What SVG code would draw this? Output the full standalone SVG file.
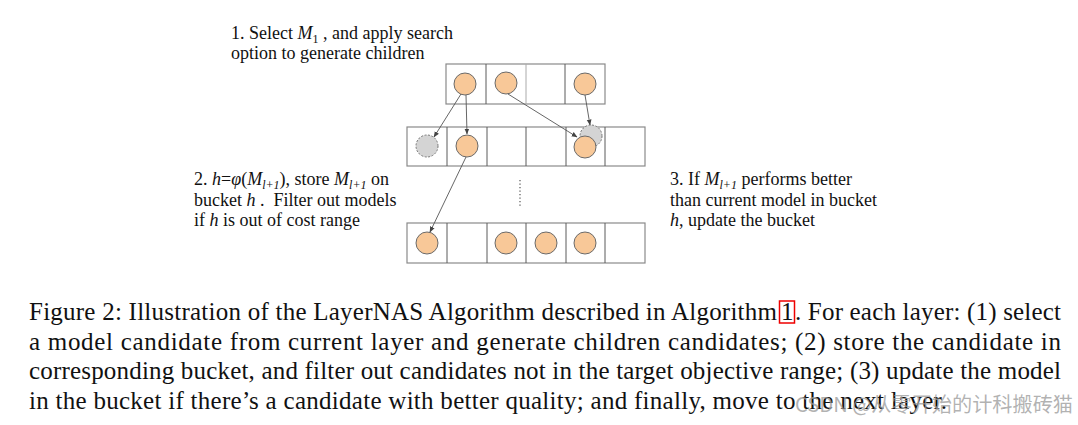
<svg xmlns="http://www.w3.org/2000/svg" width="1078" height="425" viewBox="0 0 1078 425">
  <defs>
    <marker id="ah" viewBox="0 0 10 10" refX="9" refY="5" markerWidth="6" markerHeight="6" orient="auto" markerUnits="userSpaceOnUse">
      <path d="M0,1 L10,5 L0,9 Z" fill="#444"/>
    </marker>
  </defs>
  <style>
    .cell{fill:#fff;stroke:#8a8a8a;stroke-width:1.2}
    .dv{stroke:#5a5a5a;stroke-width:1}
    .m{fill:#f8c898;stroke:#6a6a6a;stroke-width:1}
    .g{fill:#d4d4d4;stroke:#777;stroke-width:1;stroke-dasharray:2 1.5}
    .lbl{font-family:"Liberation Serif","Times New Roman",serif;font-size:18px;fill:#111}
    .cap{font-family:"Liberation Serif","Times New Roman",serif;font-size:25px;fill:#111}
    .it{font-style:italic}
    .sub{font-size:12px;font-style:italic}
    .sub1{font-size:12px}
    .conn{stroke:#555;stroke-width:0.9;fill:none;marker-end:url(#ah)}
  </style>
  <rect width="1078" height="425" fill="#fff"/>

  <!-- top row (current layer) -->
  <g id="row1">
    <rect class="cell" x="446" y="64" width="159" height="40"/>
    <line class="dv" x1="486" y1="64" x2="486" y2="104"/>
    <line class="dv" x1="526" y1="64" x2="526" y2="104" style="stroke:#aaa"/>
    <line class="dv" x1="565" y1="64" x2="565" y2="104"/>
    <circle class="m" cx="465" cy="84" r="11"/>
    <circle class="m" cx="506" cy="83" r="11"/>
    <circle class="m" cx="585" cy="84" r="11"/>
  </g>

  <!-- second row (next layer) -->
  <g id="row2">
    <rect class="cell" x="407" y="127" width="238" height="39"/>
    <line class="dv" x1="447" y1="127" x2="447" y2="166"/>
    <line class="dv" x1="487" y1="127" x2="487" y2="166"/>
    <line class="dv" x1="526" y1="127" x2="526" y2="166"/>
    <line class="dv" x1="566" y1="127" x2="566" y2="166"/>
    <line class="dv" x1="605" y1="127" x2="605" y2="166"/>
    <circle class="g" cx="427" cy="146" r="11"/>
    <circle class="m" cx="467" cy="146" r="11"/>
    <circle class="g" cx="591" cy="136" r="11"/>
    <circle class="m" cx="585" cy="147" r="11"/>
  </g>

  <!-- ellipsis -->
  <g id="ellipsis">
    <line x1="520" y1="180" x2="520" y2="207" stroke="#555" stroke-width="1.2" stroke-dasharray="1.2 2.3"/>
  </g>

  <!-- bottom row -->
  <g id="row3">
    <rect class="cell" x="407" y="223" width="238" height="40"/>
    <line class="dv" x1="447" y1="223" x2="447" y2="263"/>
    <line class="dv" x1="487" y1="223" x2="487" y2="263"/>
    <line class="dv" x1="526" y1="223" x2="526" y2="263"/>
    <line class="dv" x1="566" y1="223" x2="566" y2="263"/>
    <line class="dv" x1="605" y1="223" x2="605" y2="263"/>
    <circle class="m" cx="427" cy="243" r="11"/>
    <circle class="m" cx="506" cy="243" r="11"/>
    <circle class="m" cx="546" cy="243" r="11"/>
    <circle class="m" cx="585" cy="243" r="11"/>
  </g>

  <!-- connectors -->
  <g id="connectors">
    <line class="conn" x1="461" y1="94" x2="434" y2="137"/>
    <line class="conn" x1="466" y1="95" x2="467" y2="134"/>
    <line class="conn" x1="508" y1="94" x2="577" y2="137"/>
    <line class="conn" x1="585" y1="95" x2="590" y2="125"/>
    <line class="conn" x1="466" y1="157" x2="430" y2="232"/>
  </g>

  <!-- labels -->
  <g id="label1">
    <text class="lbl" x="231" y="38.5">1. Select <tspan class="it">M</tspan><tspan class="sub1" dy="4">1</tspan><tspan dy="-4"> , and apply search</tspan></text>
    <text class="lbl" x="231" y="59">option to generate children</text>
  </g>
  <g id="label2">
    <text class="lbl" x="194" y="185">2. <tspan class="it">h</tspan>=<tspan class="it">φ</tspan>(<tspan class="it">M</tspan><tspan class="sub" dy="4">l+1</tspan><tspan dy="-4">), store </tspan><tspan class="it">M</tspan><tspan class="sub" dy="4">l+1</tspan><tspan dy="-4"> on</tspan></text>
    <text class="lbl" x="194" y="205.5">bucket <tspan class="it">h</tspan> . &#160;Filter out models</text>
    <text class="lbl" x="194" y="226">if <tspan class="it">h</tspan> is out of cost range</text>
  </g>
  <g id="label3">
    <text class="lbl" x="670" y="185">3. If <tspan class="it">M</tspan><tspan class="sub" dy="4">l+1</tspan><tspan dy="-4"> performs better</tspan></text>
    <text class="lbl" x="670" y="205.5">than current model in bucket</text>
    <text class="lbl" x="670" y="226"><tspan class="it">h</tspan>, update the bucket</text>
  </g>

  <!-- caption -->
  <g id="caption">
    <text class="cap" x="29" y="320" textLength="748" lengthAdjust="spacing">Figure 2: Illustration of the LayerNAS Algorithm described in Algorithm</text>
    <text class="cap" x="781" y="320">1</text>
    <rect x="779.5" y="301" width="15" height="22" fill="none" stroke="#e00" stroke-width="1.5"/>
    <text class="cap" x="795" y="320" textLength="266" lengthAdjust="spacing">. For each layer: (1) select</text>
    <text class="cap" x="29" y="349.7" textLength="1032" lengthAdjust="spacing">a model candidate from current layer and generate children candidates; (2) store the candidate in</text>
    <text class="cap" x="29" y="379.4" textLength="1032" lengthAdjust="spacing">corresponding bucket, and filter out candidates not in the target objective range; (3) update the model</text>
    <text class="cap" x="29" y="409" textLength="918" lengthAdjust="spacing">in the bucket if there’s a candidate with better quality; and finally, move to the next layer.</text>
  </g>

  <!-- watermark -->
  <text x="795" y="412" font-family="'Noto Sans CJK SC','Noto Sans',sans-serif" font-size="20" fill="#999" fill-opacity="0.75" textLength="278" lengthAdjust="spacingAndGlyphs">CSDN @从零开始的计科搬砖猫</text>
</svg>
